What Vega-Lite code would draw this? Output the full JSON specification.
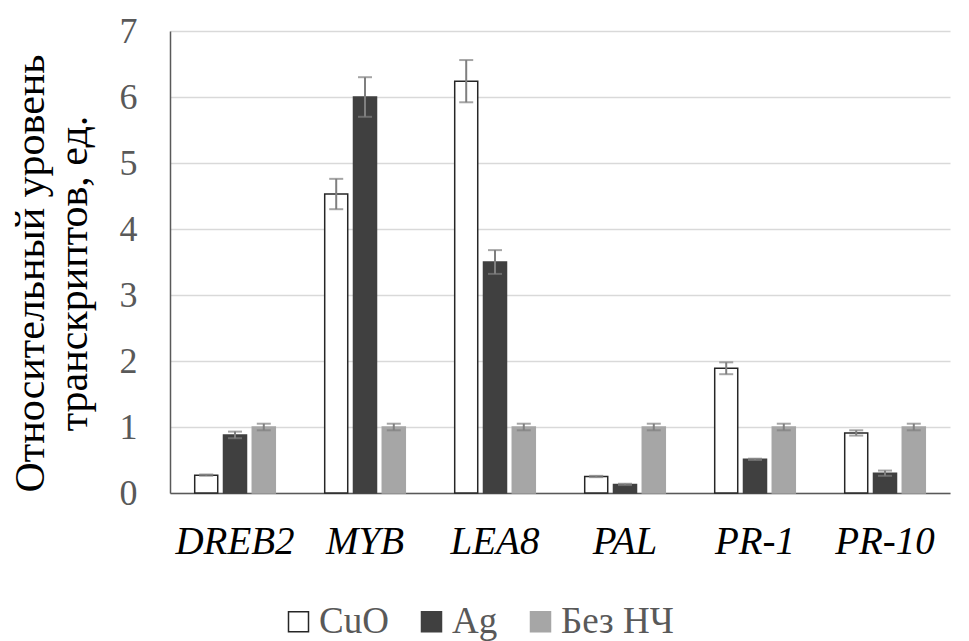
{
  "$schema": "https://vega.github.io/schema/vega-lite/v6.json",
  "width": 780,
  "height": 462,
  "autosize": {"type": "none"},
  "padding": {"left": 170, "top": 31, "right": 19, "bottom": 148},
  "background": "white",
  "config": {
    "view": {"stroke": null},
    "font": "Liberation Serif, Times New Roman, DejaVu Serif, serif"
  },
  "data": {
    "values": [
      {"gene": "DREB2", "treatment": "CuO", "value": 0.27, "lo": 0.26, "hi": 0.28},
      {"gene": "DREB2", "treatment": "Ag", "value": 0.88, "lo": 0.83, "hi": 0.93},
      {"gene": "DREB2", "treatment": "Без НЧ", "value": 1.0, "lo": 0.95, "hi": 1.05},
      {"gene": "MYB", "treatment": "CuO", "value": 4.53, "lo": 4.3, "hi": 4.76},
      {"gene": "MYB", "treatment": "Ag", "value": 6.0, "lo": 5.7, "hi": 6.3},
      {"gene": "MYB", "treatment": "Без НЧ", "value": 1.0, "lo": 0.95, "hi": 1.05},
      {"gene": "LEA8", "treatment": "CuO", "value": 6.24, "lo": 5.92, "hi": 6.56},
      {"gene": "LEA8", "treatment": "Ag", "value": 3.5, "lo": 3.32, "hi": 3.68},
      {"gene": "LEA8", "treatment": "Без НЧ", "value": 1.0, "lo": 0.95, "hi": 1.05},
      {"gene": "PAL", "treatment": "CuO", "value": 0.25, "lo": 0.24, "hi": 0.26},
      {"gene": "PAL", "treatment": "Ag", "value": 0.13, "lo": 0.12, "hi": 0.14},
      {"gene": "PAL", "treatment": "Без НЧ", "value": 1.0, "lo": 0.95, "hi": 1.05},
      {"gene": "PR-1", "treatment": "CuO", "value": 1.89, "lo": 1.8, "hi": 1.98},
      {"gene": "PR-1", "treatment": "Ag", "value": 0.51, "lo": 0.5, "hi": 0.52},
      {"gene": "PR-1", "treatment": "Без НЧ", "value": 1.0, "lo": 0.95, "hi": 1.05},
      {"gene": "PR-10", "treatment": "CuO", "value": 0.91, "lo": 0.87, "hi": 0.95},
      {"gene": "PR-10", "treatment": "Ag", "value": 0.3, "lo": 0.26, "hi": 0.34},
      {"gene": "PR-10", "treatment": "Без НЧ", "value": 1.0, "lo": 0.95, "hi": 1.05}
    ]
  },
  "encoding": {
    "x": {
      "field": "gene",
      "type": "nominal",
      "sort": ["DREB2", "MYB", "LEA8", "PAL", "PR-1", "PR-10"],
      "scale": {"paddingInner": 0.38, "paddingOuter": 0.19},
      "axis": {
        "title": null,
        "labelAngle": 0,
        "labelFont": "Liberation Serif, Times New Roman, DejaVu Serif, serif",
        "labelFontStyle": "italic",
        "labelFontSize": 39,
        "labelColor": "#000000",
        "labelPadding": 29,
        "ticks": false,
        "domainColor": "#595959",
        "domainWidth": 1.5
      }
    },
    "xOffset": {
      "field": "treatment",
      "type": "nominal",
      "sort": ["CuO", "Ag", "Без НЧ"],
      "scale": {"paddingInner": 0.2, "paddingOuter": 0}
    }
  },
  "layer": [
    {
      "mark": {"type": "bar", "strokeWidth": 1.5},
      "encoding": {
        "y": {
          "field": "value",
          "type": "quantitative",
          "scale": {"domain": [0, 7]},
          "axis": {
            "title": ["Относительный уровень", "транскриптов, ед."],
            "titleFont": "Liberation Serif, Times New Roman, DejaVu Serif, serif",
            "titleFontSize": 42,
            "titleFontWeight": "normal",
            "titleColor": "#000000",
            "titleLineHeight": 43,
            "titlePadding": 24,
            "titleY": 242,
            "values": [0, 1, 2, 3, 4, 5, 6, 7],
            "format": "d",
            "labelFont": "Liberation Serif, Times New Roman, DejaVu Serif, serif",
            "labelFontSize": 36,
            "labelColor": "#595959",
            "labelPadding": 33,
            "ticks": false,
            "grid": true,
            "gridColor": "#d9d9d9",
            "gridWidth": 1.5,
            "domainColor": "#595959",
            "domainWidth": 1.5
          }
        },
        "fill": {
          "field": "treatment",
          "type": "nominal",
          "sort": ["CuO", "Ag", "Без НЧ"],
          "scale": {"domain": ["CuO", "Ag", "Без НЧ"], "range": ["#ffffff", "#404040", "#a6a6a6"]},
          "legend": {
            "title": null,
            "orient": "none",
            "legendX": 110,
            "legendY": 572,
            "direction": "horizontal",
            "symbolType": "square",
            "symbolSize": 400,
            "symbolStrokeWidth": 1.5,
            "labelFont": "Liberation Serif, Times New Roman, DejaVu Serif, serif",
            "labelFontSize": 37,
            "labelColor": "#595959",
            "labelOffset": 2,
            "columnPadding": 24
          }
        },
        "stroke": {
          "field": "treatment",
          "type": "nominal",
          "sort": ["CuO", "Ag", "Без НЧ"],
          "scale": {"domain": ["CuO", "Ag", "Без НЧ"], "range": ["#262626", "#404040", "#a6a6a6"]},
          "legend": null
        }
      }
    },
    {
      "mark": {"type": "rule", "color": "#7f7f7f", "strokeWidth": 2},
      "encoding": {
        "y": {"field": "lo", "type": "quantitative"},
        "y2": {"field": "hi"}
      }
    },
    {
      "mark": {"type": "tick", "color": "#7f7f7f", "size": 14, "thickness": 2, "orient": "horizontal"},
      "encoding": {
        "y": {"field": "lo", "type": "quantitative"}
      }
    },
    {
      "mark": {"type": "tick", "color": "#7f7f7f", "size": 14, "thickness": 2, "orient": "horizontal"},
      "encoding": {
        "y": {"field": "hi", "type": "quantitative"}
      }
    }
  ]
}
